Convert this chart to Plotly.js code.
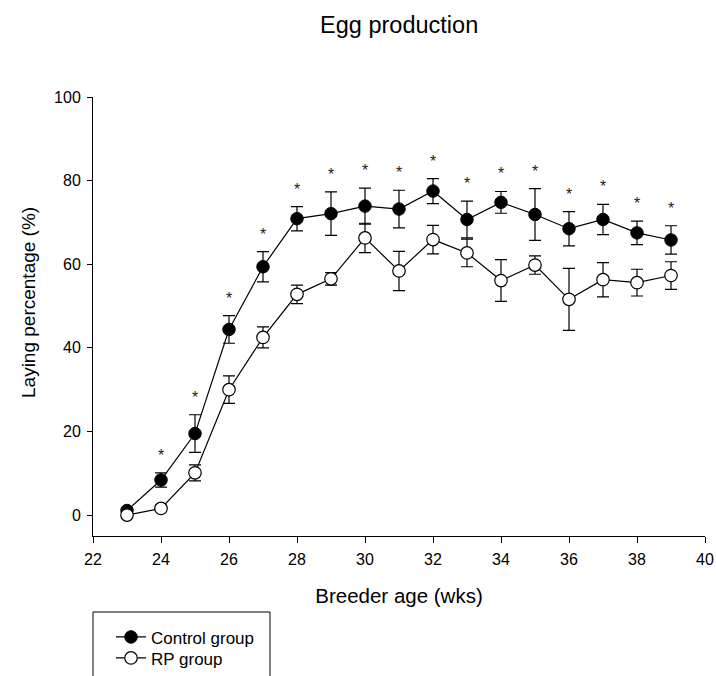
<!DOCTYPE html>
<html>
<head>
<meta charset="utf-8">
<script src="https://cdn.plot.ly/plotly-3.0.1.min.js"></script>
<style>html,body{margin:0;padding:0;background:#fff;} #chart{width:716px;height:676px;}</style>
</head>
<body>
<div id="chart"></div>
<script>
// Data
const ages = [23, 24, 25, 26, 27, 28, 29, 30, 31, 32, 33, 34, 35, 36, 37, 38, 39];
const controlGroup = [1.1, 8.4, 19.5, 44.4, 59.4, 70.9, 72.1, 73.9, 73.2, 77.5, 70.7, 74.8, 71.9, 68.5, 70.7, 67.5, 65.8];
const controlErr   = [0.6, 1.7, 4.5, 3.3, 3.6, 2.9, 5.2, 4.3, 4.5, 3.0, 4.4, 2.6, 6.2, 4.1, 3.6, 2.8, 3.4];
const rpGroup      = [0.0, 1.6, 10.1, 30.0, 42.5, 52.8, 56.5, 66.3, 58.4, 65.9, 62.7, 56.1, 59.8, 51.6, 56.3, 55.6, 57.3];
const rpErr        = [0.4, 0.8, 1.9, 3.3, 2.5, 2.2, 1.5, 3.5, 4.7, 3.4, 3.3, 5.0, 2.2, 7.4, 4.1, 3.2, 3.3];
const significance = ['', '*', '*', '*', '*', '*', '*', '*', '*', '*', '*', '*', '*', '*', '*', '*', '*'];
const yTicks = [0, 20, 40, 60, 80, 100];
const xTicks = [22, 24, 26, 28, 30, 32, 34, 36, 38, 40];

const FONT = 'Liberation Sans, Arial, Helvetica, sans-serif';

const traces = [
  {
    x: ages, y: controlGroup, name: 'Control group', type: 'scatter', mode: 'lines+markers',
    legend: 'legend',
    line: {color: 'black', width: 1.2},
    marker: {symbol: 'circle', size: 12.5, color: 'black', line: {color: 'black', width: 1}},
    error_y: {type: 'data', array: controlErr, visible: true, color: 'black', thickness: 1.2, width: 6}
  },
  {
    x: ages, y: rpGroup, name: 'RP group', type: 'scatter', mode: 'lines+markers',
    legend: 'legend2',
    line: {color: 'black', width: 1.2},
    marker: {symbol: 'circle', size: 12.5, color: 'white', line: {color: 'black', width: 1.2}},
    error_y: {type: 'data', array: rpErr, visible: true, color: 'black', thickness: 1.2, width: 6}
  }
];

// significance marks above the control error bars
const sigAnnotations = ages.map((a, i) => ({
  x: a, y: controlGroup[i] + controlErr[i], xref: 'x', yref: 'y',
  text: significance[i], showarrow: false, xanchor: 'center', yanchor: 'bottom', yshift: 7,
  font: {family: FONT, size: 16, color: '#222'}
})).filter(d => d.text);

const legendCommon = {
  xanchor: 'left', yanchor: 'top', bgcolor: 'rgba(0,0,0,0)', borderwidth: 0,
  font: {family: FONT, size: 17, color: 'black'}
};

const layout = {
  width: 716, height: 676,
  paper_bgcolor: 'white', plot_bgcolor: 'white',
  font: {family: FONT, color: 'black', size: 16},
  margin: {l: 93, r: 11, t: 97, b: 140, autoexpand: false},
  title: {text: 'Egg production', font: {family: FONT, size: 23.5, color: 'black'},
          x: 0.5575, xanchor: 'center', xref: 'container', y: 1 - 25 / 676, yanchor: 'middle', yref: 'container'},
  xaxis: {
    range: [22, 40], tickvals: xTicks, ticks: 'outside', ticklen: 6, tickwidth: 1, tickcolor: 'black',
    showline: true, linecolor: 'black', linewidth: 1, showgrid: false, zeroline: false,
    tickfont: {family: FONT, size: 16}, ticklabelstandoff: 3, fixedrange: true,
    title: {text: 'Breeder age (wks)', font: {family: FONT, size: 20.5}, standoff: 21}
  },
  yaxis: {
    range: [-5, 100], tickvals: yTicks, ticks: 'outside', ticklen: 5, tickwidth: 1, tickcolor: 'black',
    showline: true, linecolor: 'black', linewidth: 1, showgrid: false, zeroline: false,
    tickfont: {family: FONT, size: 16}, ticklabelstandoff: 3, fixedrange: true
  },
  showlegend: true,
  legend: Object.assign({x: 18 / 612, y: -0.19}, legendCommon),
  legend2: Object.assign({x: 18 / 612, y: -0.2378}, legendCommon),
  annotations: [
    {text: 'Laying percentage (%)', xref: 'paper', yref: 'paper', x: -65 / 612, y: 233 / 439,
     xanchor: 'center', yanchor: 'middle', textangle: -90, showarrow: false,
     font: {family: FONT, size: 19, color: 'black'}}
  ].concat(sigAnnotations),
  shapes: [
    {type: 'rect', xref: 'paper', yref: 'paper', x0: 0, x1: 177 / 612, y0: -76 / 439, y1: -150 / 439,
     line: {color: 'black', width: 1}, fillcolor: 'rgba(0,0,0,0)', layer: 'below'}
  ]
};

Plotly.newPlot('chart', traces, layout, {staticPlot: true, displayModeBar: false});
</script>
</body>
</html>
